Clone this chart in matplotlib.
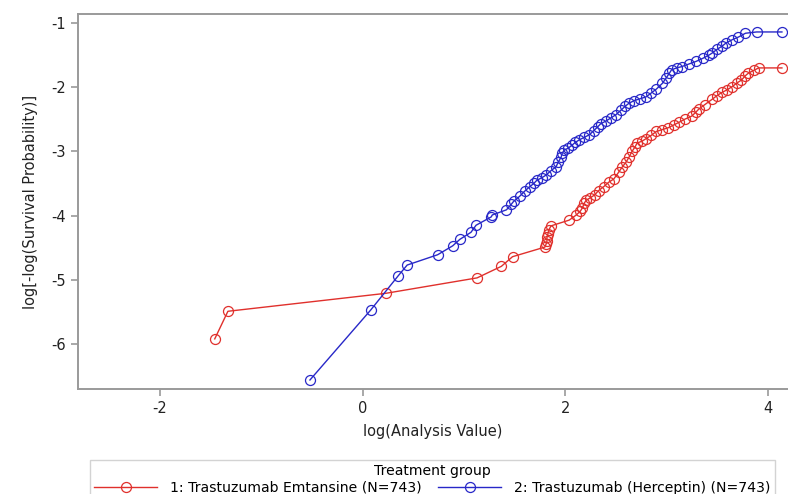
import matplotlib
matplotlib.use("Agg")
import matplotlib.pyplot as plt

# --- data (log scale values) ---
emt_x = [-1.46, -1.33, 0.23, 1.13, 1.37, 1.48, 1.80, 1.81, 1.82, 1.82, 1.83, 1.84, 1.86,
         2.04, 2.11, 2.15, 2.17, 2.19, 2.21, 2.25, 2.29, 2.33, 2.38, 2.43, 2.48, 2.53,
         2.56, 2.60, 2.63, 2.66, 2.69, 2.71, 2.76, 2.80, 2.85, 2.90, 2.96, 3.02, 3.07,
         3.12, 3.18, 3.25, 3.29, 3.32, 3.38, 3.45, 3.50, 3.55, 3.60, 3.65, 3.70, 3.74,
         3.78, 3.81, 3.86, 3.91, 4.14]
emt_y = [-5.92, -5.49, -5.21, -4.97, -4.79, -4.64, -4.49, -4.45, -4.40, -4.34, -4.28, -4.22, -4.16,
         -4.07, -3.99, -3.93, -3.88, -3.80, -3.76, -3.72, -3.68, -3.61, -3.55, -3.48, -3.43, -3.32,
         -3.25, -3.17, -3.09, -3.00, -2.93, -2.87, -2.84, -2.80, -2.75, -2.69, -2.66, -2.63, -2.59,
         -2.55, -2.50, -2.45, -2.39, -2.34, -2.27, -2.19, -2.13, -2.08, -2.04, -1.99, -1.93, -1.89,
         -1.82, -1.78, -1.74, -1.70, -1.70]

her_x = [-0.52, 0.08, 0.35, 0.44, 0.74, 0.89, 0.96, 1.07, 1.12, 1.27, 1.28, 1.42, 1.47, 1.49,
         1.55, 1.60, 1.65, 1.69, 1.72, 1.77, 1.81, 1.86, 1.91, 1.93, 1.96, 1.97, 1.99, 2.03,
         2.07, 2.10, 2.14, 2.19, 2.24, 2.28, 2.32, 2.35, 2.40, 2.45, 2.50, 2.55, 2.59, 2.63,
         2.68, 2.74, 2.80, 2.85, 2.90, 2.96, 3.00, 3.03, 3.05, 3.10, 3.15, 3.22, 3.29, 3.36,
         3.42, 3.45, 3.50, 3.55, 3.59, 3.65, 3.71, 3.78, 3.89, 4.14]
her_y = [-6.56, -5.47, -4.94, -4.77, -4.61, -4.47, -4.37, -4.26, -4.15, -4.02, -3.99, -3.91, -3.82, -3.78,
         -3.70, -3.62, -3.55, -3.50, -3.45, -3.41, -3.37, -3.30, -3.24, -3.17, -3.09, -3.03, -2.98, -2.95,
         -2.90, -2.86, -2.82, -2.78, -2.74, -2.68, -2.62, -2.57, -2.53, -2.48, -2.43, -2.36, -2.30, -2.25,
         -2.21, -2.18, -2.15, -2.09, -2.03, -1.94, -1.85, -1.78, -1.73, -1.70, -1.68, -1.64, -1.60, -1.55,
         -1.50, -1.47, -1.41, -1.36, -1.31, -1.26, -1.22, -1.16, -1.14, -1.14]

labels = ["1: Trastuzumab Emtansine (N=743)", "2: Trastuzumab (Herceptin) (N=743)"]
x_ticks = [-2, 0, 2, 4]
y_ticks = [-6, -5, -4, -3, -2, -1]

red = "#E0302C"
blue = "#2828C8"
grey = "#9A9A9A"

fig = plt.figure(figsize=(7.88, 4.94), dpi=100)
ax = fig.add_axes([0.099, 0.2126, 0.901, 0.7591])

ax.plot(emt_x, emt_y, color=red, lw=1.0, marker="o", ms=7.2, mfc="none",
        mec=red, mew=0.9, label=labels[0])
ax.plot(her_x, her_y, color=blue, lw=1.0, marker="o", ms=7.2, mfc="none",
        mec=blue, mew=0.9, label=labels[1])

ax.set_xlim(-2.81, 4.2)
ax.set_ylim(-6.70, -0.86)
ax.set_xticks(x_ticks)
ax.set_yticks(y_ticks)
ax.set_xticklabels([str(t) for t in x_ticks])
ax.set_yticklabels([str(t) for t in y_ticks])

for side in ["left", "bottom", "top"]:
    ax.spines[side].set_color(grey)
    ax.spines[side].set_linewidth(1.4)
ax.spines["right"].set_visible(False)
ax.tick_params(colors=grey, labelcolor="#222222", labelsize=10.5, length=5, width=1.2)

ax.set_xlabel("log(Analysis Value)", fontsize=10.5, color="#222222", labelpad=6)
ax.set_ylabel("log[-log(Survival Probability)]", fontsize=10.5, color="#222222", labelpad=10)

# legend sits under the plot, its bottom is cut by the figure edge as in the source
leg = fig.legend(loc="upper left", bbox_to_anchor=(0.114, 0.069), borderaxespad=0,
                 ncol=2, title="Treatment group", fontsize=10.1, title_fontsize=10.1,
                 frameon=True, fancybox=False, handlelength=4.5, columnspacing=1.2,
                 borderpad=0.3, labelspacing=0.2, handletextpad=0.9)
leg.get_frame().set_edgecolor("#C8C8C8")
leg.get_frame().set_linewidth(1.0)

fig.savefig("out.png", dpi=100)
